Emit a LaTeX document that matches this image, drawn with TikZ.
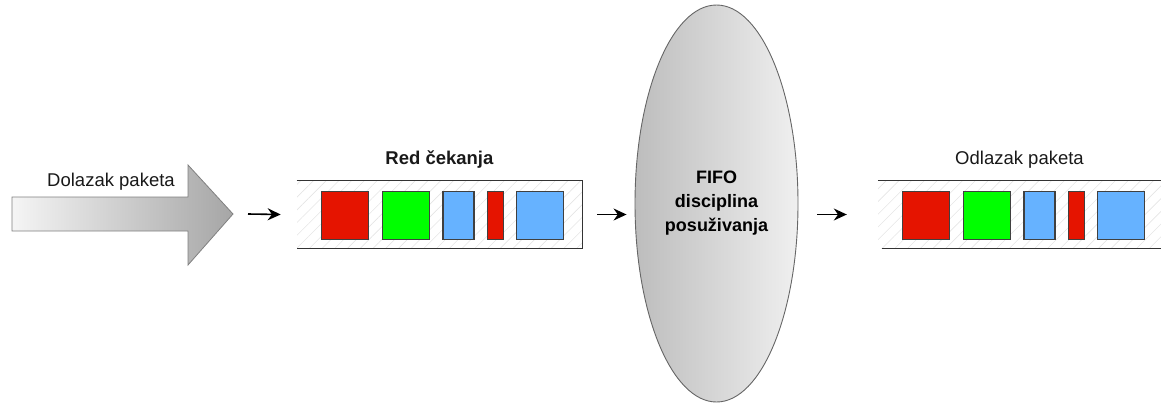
\documentclass[tikz,border=0pt]{standalone}
\usepackage{fontspec}
\setmainfont{Liberation Sans}
\usetikzlibrary{shapes, arrows.meta, positioning, shapes.geometric, patterns.meta}

\definecolor{pktred}{HTML}{E51400}
\definecolor{pktgreen}{HTML}{00FF00}
\definecolor{pktblue}{HTML}{66B2FF}

\begin{document}
\begin{tikzpicture}[
	x=1pt, y=-1pt,
	node distance=12pt and 12pt,
	font=\fontsize{18.5pt}{24pt}\selectfont,
	pkt/.style={rectangle, draw=black!75, line width=1.1pt, inner sep=0, minimum height=48pt},
	queue/.style={rectangle, inner sep=0, minimum height=67pt,
		pattern={Lines[angle=45, distance=9pt, line width=0.6pt]}, pattern color=black!10},
	wall/.style={draw=black!80, line width=1.3pt},
	flow/.style={draw, line width=1.6pt, -{Stealth[length=13pt, width=12pt]}},
	lbl/.style={inner sep=0, text=black!90},
	]
	\useasboundingbox (0,0) rectangle (1161,405);
	
	% incoming arrow
	\shade[left color=black!4, right color=black!35, draw=black!50, line width=0.8pt]
		(12,197) -- (188,197) -- (188,165) -- (233,214) -- (188,265) -- (188,231) -- (12,231) -- cycle;
	\coordinate (intip) at (233,214);
	\node [lbl] (inlbl) at (111,182) {Dolazak paketa};
	
	% waiting queue
	\node [queue, minimum width=285pt] (q1) at (439.5,214.5) {};
	\draw [wall] (q1.north west) -- (q1.north east) -- (q1.south east) -- (q1.south west);
	\node [lbl, above=12pt of q1] (q1lbl) {\textbf{Red čekanja}};
	\node [pkt, fill=pktred, minimum width=47.5pt] (a1) at (345,215.5) {};
	\node [pkt, fill=pktgreen, minimum width=47pt, right=13pt of a1] (a2) {};
	\node [pkt, fill=pktblue, minimum width=31pt, right= of a2] (a3) {};
	\node [pkt, fill=pktred, minimum width=16pt, right= of a3] (a4) {};
	\node [pkt, fill=pktblue, minimum width=47pt, right= of a4] (a5) {};
	
	% FIFO server
	\node [ellipse, minimum width=163pt, minimum height=397pt, inner sep=0,
		left color=black!26, right color=black!6, draw=black!60, line width=0.9pt,
		align=center, font=\fontsize{18pt}{24pt}\selectfont\bfseries] (fifo) at (716.5,203.5)
		{FIFO\\disciplina\\posuživanja};
	
	% departing queue
	\node [queue, minimum width=283pt] (q2) at (1019.5,214.5) {};
	\draw [wall] (q2.north west) -- (q2.north east);
	\draw [wall] ([xshift=4pt]q2.south west) -- (q2.south east);
	\node [lbl, above=12pt of q2] (q2lbl) {Odlazak paketa};
	\node [pkt, fill=pktred, minimum width=47.5pt] (b1) at (926,215.5) {};
	\node [pkt, fill=pktgreen, minimum width=47pt, right=13pt of b1] (b2) {};
	\node [pkt, fill=pktblue, minimum width=31pt, right= of b2] (b3) {};
	\node [pkt, fill=pktred, minimum width=16pt, right= of b3] (b4) {};
	\node [pkt, fill=pktblue, minimum width=47pt, right= of b4] (b5) {};
	
	\path [flow] ([xshift=15pt]intip) -- ([xshift=-16pt]q1.west);
	\path [flow] ([xshift=15pt]q1.east) -- ([xshift=-8pt]fifo.west |- q1.east);
	\path [flow] ([xshift=19pt]fifo.east |- q2.west) -- ([xshift=-31pt]q2.west);
\end{tikzpicture}
\end{document}
